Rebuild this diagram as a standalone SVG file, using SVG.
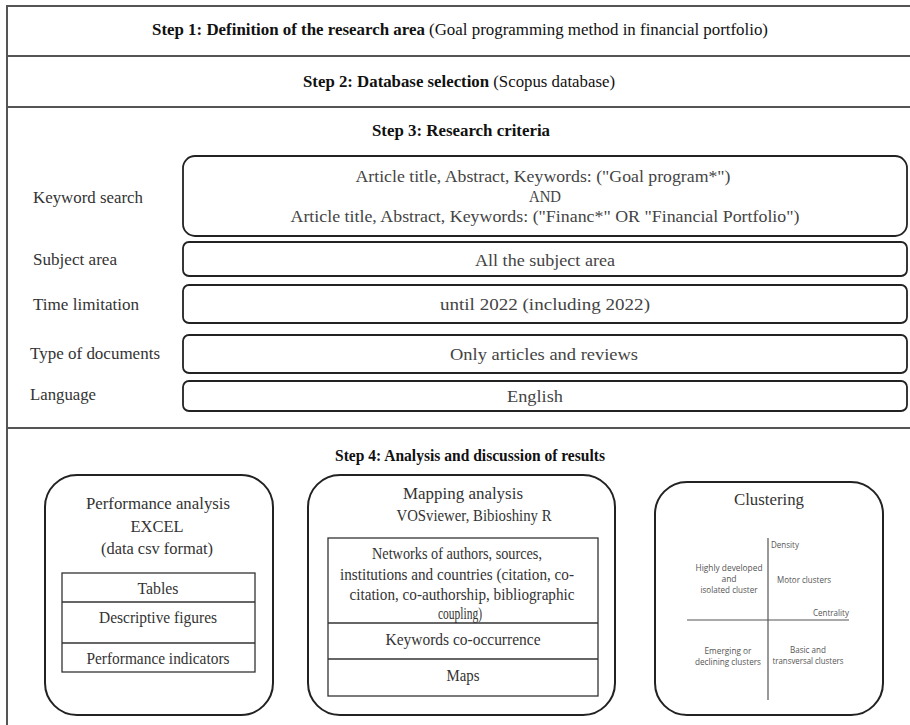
<svg xmlns="http://www.w3.org/2000/svg" width="910" height="725" viewBox="0 0 910 725">
  <style>
    .frame { fill: none; stroke: #555; stroke-width: 2; }
    .crit { fill: #fff; stroke: #222; stroke-width: 1.8; }
    .panel { fill: #fff; stroke: #222; stroke-width: 2; }
    .cell { fill: none; stroke: #333; stroke-width: 1.3; }
    .axis { fill: none; stroke: #555; stroke-width: 1.2; }
    .head { font-family: "Liberation Serif", "Times New Roman", serif; font-size: 16.5px; fill: #111; text-anchor: middle; }
    .bold { font-weight: bold; }
    .lbl { font-family: "Liberation Serif", "Times New Roman", serif; font-size: 17.5px; fill: #333; }
    .ctext { font-family: "Liberation Serif", "Times New Roman", serif; font-size: 17.5px; fill: #444; text-anchor: middle; }
    .ptext { font-family: "Liberation Serif", "Times New Roman", serif; font-size: 16.5px; fill: #333; text-anchor: middle; }
    .qtext { font-family: "Open Sans", "Liberation Sans", sans-serif; font-size: 8.5px; fill: #555; text-anchor: middle; }
  </style>

  <!-- outer frame and section dividers -->
  <g id="frame">
    <path class="frame" d="M912 6 H7 V727"/>
    <line class="frame" x1="7" y1="56" x2="912" y2="56"/>
    <line class="frame" x1="7" y1="107" x2="912" y2="107"/>
    <line class="frame" x1="7" y1="428" x2="912" y2="428"/>
  </g>

  <g id="step1">
    <text class="head" x="460" y="35" textLength="616" lengthAdjust="spacingAndGlyphs"><tspan class="bold">Step 1: Definition of the research area</tspan> (Goal programming method in financial portfolio)</text>
  </g>

  <g id="step2">
    <text class="head" x="459" y="87" textLength="312" lengthAdjust="spacingAndGlyphs"><tspan class="bold">Step 2: Database selection</tspan> (Scopus database)</text>
  </g>

  <g id="step3">
    <text class="head bold" x="461" y="136" textLength="178" lengthAdjust="spacingAndGlyphs">Step 3: Research criteria</text>
  </g>

  <g id="keyword-search">
    <text class="lbl" x="33" y="203" textLength="110" lengthAdjust="spacingAndGlyphs">Keyword search</text>
    <rect class="crit" x="183" y="156" width="724" height="80" rx="12"/>
    <text class="ctext" x="543" y="182" textLength="375" lengthAdjust="spacingAndGlyphs">Article title, Abstract, Keywords: ("Goal program*")</text>
    <text class="ctext" x="545" y="202" textLength="32" lengthAdjust="spacingAndGlyphs">AND</text>
    <text class="ctext" x="545" y="222" textLength="509" lengthAdjust="spacingAndGlyphs">Article title, Abstract, Keywords: ("Financ*" OR "Financial Portfolio")</text>
  </g>

  <g id="subject-area">
    <text class="lbl" x="33" y="265" textLength="84" lengthAdjust="spacingAndGlyphs">Subject area</text>
    <rect class="crit" x="183" y="242" width="724" height="34" rx="6"/>
    <text class="ctext" x="545" y="266" textLength="140" lengthAdjust="spacingAndGlyphs">All the subject area</text>
  </g>

  <g id="time-limitation">
    <text class="lbl" x="33" y="310" textLength="106" lengthAdjust="spacingAndGlyphs">Time limitation</text>
    <rect class="crit" x="183" y="285" width="724" height="38" rx="6"/>
    <text class="ctext" x="545" y="310" textLength="210" lengthAdjust="spacingAndGlyphs">until 2022 (including 2022)</text>
  </g>

  <g id="document-type">
    <text class="lbl" x="30" y="359" textLength="130" lengthAdjust="spacingAndGlyphs">Type of documents</text>
    <rect class="crit" x="183" y="335" width="724" height="38" rx="6"/>
    <text class="ctext" x="544" y="360" textLength="188" lengthAdjust="spacingAndGlyphs">Only articles and reviews</text>
  </g>

  <g id="language">
    <text class="lbl" x="30" y="400" textLength="66" lengthAdjust="spacingAndGlyphs">Language</text>
    <rect class="crit" x="183" y="381" width="724" height="30" rx="6"/>
    <text class="ctext" x="535" y="402" textLength="56" lengthAdjust="spacingAndGlyphs">English</text>
  </g>

  <g id="step4">
    <text class="head bold" x="470" y="461" textLength="270" lengthAdjust="spacingAndGlyphs">Step 4: Analysis and discussion of results</text>
  </g>

  <g id="performance-analysis">
    <rect class="panel" x="45" y="475" width="228" height="240" rx="32"/>
    <text class="ptext" x="158" y="509" textLength="144" lengthAdjust="spacingAndGlyphs">Performance analysis</text>
    <text class="ptext" x="157" y="532" textLength="53" lengthAdjust="spacingAndGlyphs">EXCEL</text>
    <text class="ptext" x="157" y="554" textLength="112" lengthAdjust="spacingAndGlyphs">(data csv format)</text>
    <rect class="cell" x="62" y="573" width="193" height="99"/>
    <line class="cell" x1="62" y1="602" x2="255" y2="602"/>
    <line class="cell" x1="62" y1="643" x2="255" y2="643"/>
    <text class="ptext" x="158" y="594" textLength="41" lengthAdjust="spacingAndGlyphs">Tables</text>
    <text class="ptext" x="158" y="623" textLength="118" lengthAdjust="spacingAndGlyphs">Descriptive figures</text>
    <text class="ptext" x="158" y="664" textLength="143" lengthAdjust="spacingAndGlyphs">Performance indicators</text>
  </g>

  <g id="mapping-analysis">
    <rect class="panel" x="308" y="475" width="307" height="240" rx="32"/>
    <text class="ptext" x="463" y="499" textLength="120" lengthAdjust="spacingAndGlyphs">Mapping analysis</text>
    <text class="ptext" x="474" y="521" textLength="155" lengthAdjust="spacingAndGlyphs">VOSviewer, Bibioshiny R</text>
    <rect class="cell" x="328" y="538" width="270" height="158"/>
    <line class="cell" x1="328" y1="623" x2="598" y2="623"/>
    <line class="cell" x1="328" y1="659" x2="598" y2="659"/>
    <text class="ptext" x="457" y="559" textLength="170" lengthAdjust="spacingAndGlyphs">Networks of authors, sources,</text>
    <text class="ptext" x="457" y="580" textLength="234" lengthAdjust="spacingAndGlyphs">institutions and countries  (citation, co-</text>
    <text class="ptext" x="462" y="600" textLength="225" lengthAdjust="spacingAndGlyphs">citation, co-authorship, bibliographic</text>
    <text class="ptext" x="460" y="619" textLength="44" lengthAdjust="spacingAndGlyphs">coupling)</text>
    <text class="ptext" x="463" y="645" textLength="155" lengthAdjust="spacingAndGlyphs">Keywords co-occurrence</text>
    <text class="ptext" x="463" y="681" textLength="33" lengthAdjust="spacingAndGlyphs">Maps</text>
  </g>

  <g id="clustering">
    <rect class="panel" x="655" y="482" width="228" height="233" rx="32"/>
    <text class="ptext" x="769" y="505" font-size="20" textLength="70" lengthAdjust="spacingAndGlyphs">Clustering</text>
    <line class="axis" x1="768" y1="538" x2="768" y2="700"/>
    <line class="axis" x1="687" y1="620" x2="849" y2="620"/>
    <text class="qtext" x="785" y="548" textLength="28" lengthAdjust="spacingAndGlyphs">Density</text>
    <text class="qtext" x="729" y="571" textLength="67" lengthAdjust="spacingAndGlyphs">Highly developed</text>
    <text class="qtext" x="729" y="582">and</text>
    <text class="qtext" x="729" y="593" textLength="57" lengthAdjust="spacingAndGlyphs">isolated cluster</text>
    <text class="qtext" x="804" y="583" textLength="54" lengthAdjust="spacingAndGlyphs">Motor clusters</text>
    <text class="qtext" x="831" y="616" textLength="36" lengthAdjust="spacingAndGlyphs">Centrality</text>
    <text class="qtext" x="728" y="654" textLength="47" lengthAdjust="spacingAndGlyphs">Emerging or</text>
    <text class="qtext" x="728" y="665" textLength="66" lengthAdjust="spacingAndGlyphs">declining clusters</text>
    <text class="qtext" x="808" y="653" textLength="36" lengthAdjust="spacingAndGlyphs">Basic and</text>
    <text class="qtext" x="808" y="664" textLength="71" lengthAdjust="spacingAndGlyphs">transversal clusters</text>
  </g>
</svg>
